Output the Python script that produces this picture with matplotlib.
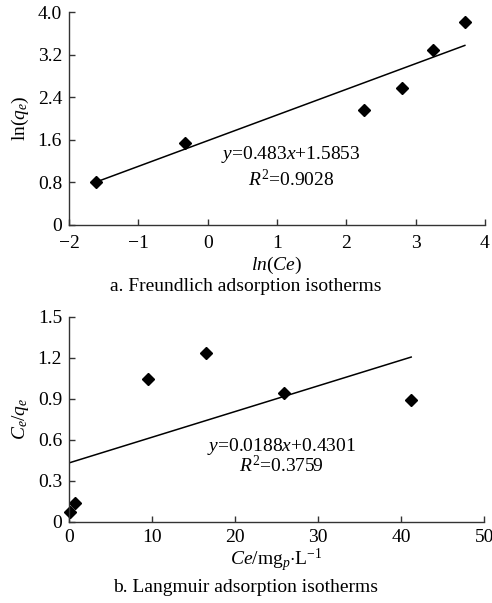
import numpy as np
import matplotlib
matplotlib.use('Agg')
import matplotlib.pyplot as plt

plt.rcParams['font.family'] = 'Liberation Serif'
plt.rcParams['mathtext.fontset'] = 'custom'
plt.rcParams['mathtext.rm'] = 'Liberation Serif'
plt.rcParams['mathtext.it'] = 'Liberation Serif:italic'
plt.rcParams['font.size'] = 14

# a. Freundlich: ln(Ce) mot ln(qe)
lnCe = [-1.61, -0.32, 2.26, 2.80, 3.25, 3.71]
lnqe = [0.81, 1.54, 2.17, 2.57, 3.29, 3.81]
kF, bF, r2F = 0.483, 1.5853, 0.9028

# b. Langmuir: Ce mot Ce/qe
Ce = [0.12, 0.68, 9.55, 16.5, 25.9, 41.2]
Ce_qe = [0.069, 0.134, 1.046, 1.232, 0.939, 0.892]
kL, bL, r2L = 0.0188, 0.4301, 0.3759

fig = plt.figure(figsize=(4.92, 6.03), dpi=100)
ax1 = fig.add_axes([0.1402, 0.6269, 0.8455, 0.3527])
ax2 = fig.add_axes([0.1402, 0.1348, 0.8441, 0.3400])

def stil(ax, xpad):
    for s in ['top', 'right']:
        ax.spines[s].set_visible(False)
    for s in ['left', 'bottom']:
        ax.spines[s].set_color('#333333')
        ax.spines[s].set_linewidth(1.0)
    ax.tick_params(direction='in', length=4, width=1.0, color='#333333',
                   labelsize=14)
    ax.tick_params(axis='x', pad=xpad)
    ax.tick_params(axis='y', pad=5)

# Figur a
xf = np.array([min(lnCe) + 0.04, max(lnCe)])
ax1.plot(xf, kF*xf + bF, 'k-', lw=1.1)
ax1.plot(lnCe, lnqe, 'kD', ms=6)
ax1.set_xlim(-2, 4)
ax1.set_ylim(0, 4.0)
ax1.set_xticks([-2, -1, 0, 1, 2, 3, 4])
ax1.set_yticks([0, 0.8, 1.6, 2.4, 3.2, 4.0])
ax1.set_yticklabels(['0', '0.8', '1.6', '2.4', '3.2', '4.0'])
stil(ax1, 7)
ax1.set_xlabel(r'$ln$($Ce$)', fontsize=14, labelpad=2)
ax1.set_ylabel(r'ln($q_e$)', fontsize=14, labelpad=5)
ax1.text(1.2, 1.32, r'$y$=0.483$x$+1.5853', ha='center', va='center', fontsize=14)
ax1.text(1.2, 0.85, r'$R^2$=%.4f' % r2F, ha='center', va='center', fontsize=14)
fig.text(0.5, 1 - 287/603, 'a. Freundlich adsorption isotherms',
         ha='center', va='center', fontsize=14)

# Figur b
xl = np.array([0, max(Ce)])
ax2.plot(xl, kL*xl + bL, 'k-', lw=1.1)
ax2.plot(Ce, Ce_qe, 'kD', ms=6, clip_on=False)
ax2.set_xlim(0, 50)
ax2.set_ylim(0, 1.5)
ax2.set_xticks([0, 10, 20, 30, 40, 50])
ax2.set_yticks([0, 0.3, 0.6, 0.9, 1.2, 1.5])
ax2.set_yticklabels(['0', '0.3', '0.6', '0.9', '1.2', '1.5'])
stil(ax2, 5)
ax2.set_xlabel(r'$Ce$/mg$_p$$\cdot$L$^{-1}$', fontsize=14, labelpad=1)
ax2.set_ylabel(r'$C_e/q_e$', fontsize=14, labelpad=5)
ax2.text(25.6, 0.55, r'$y$=0.0188$x$+0.4301', ha='center', va='center', fontsize=14)
ax2.text(25.6, 0.41, r'$R^2$=%.4f' % r2L, ha='center', va='center', fontsize=14)
fig.text(0.5, 1 - 587/603, 'b. Langmuir adsorption isotherms',
         ha='center', va='center', fontsize=14)

fig.savefig('out.png', dpi=100)
